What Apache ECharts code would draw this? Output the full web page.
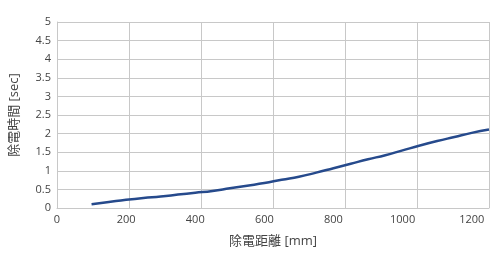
<!DOCTYPE html>
<html><head><meta charset="utf-8">
<script src="https://cdn.jsdelivr.net/npm/echarts@6/dist/echarts.min.js"></script>
<style>html,body{margin:0;padding:0;background:#fff}#c{width:502px;height:257px}</style>
</head><body><div id="c"></div>
<script>
const distances = [100,150,200,250,300,350,400,450,500,550,600,650,700,750,800,850,900,950,1000,1050,1100,1150,1200,1250];
const times = [0.10,0.16,0.22,0.27,0.31,0.36,0.41,0.46,0.53,0.60,0.67,0.76,0.84,0.95,1.07,1.19,1.31,1.42,1.55,1.68,1.80,1.91,2.02,2.11];
const xTitle = '除電距離 [mm]';
const yTitle = '除電時間 [sec]';
const font = '"Open Sans", "Noto Sans CJK JP", sans-serif';
const chart = echarts.init(document.getElementById('c'));
chart.setOption({
  animation:false,
  grid:{left:54.5,right:13,top:22,bottom:49,containLabel:false},
  xAxis:[{
    type:'value',min:0,max:1250,interval:200,
    name:xTitle,nameLocation:'middle',nameGap:27,
    nameTextStyle:{color:'#444',fontSize:13,fontFamily:font},
    axisLine:{show:true,lineStyle:{color:'#c8c8c8'}},axisTick:{show:false},
    axisLabel:{color:'#444',fontSize:11,fontFamily:font,margin:6,showMaxLabel:false,formatter:v=>String(v)},
    splitLine:{show:false}
  },{
    type:'value',min:0,max:1250,interval:1250/6,position:'bottom',
    axisLine:{show:false},axisTick:{show:false},axisLabel:{show:false},
    splitLine:{show:true,lineStyle:{color:'#c8c8c8',width:1}}
  }],
  yAxis:{
    type:'value',min:0,max:5,interval:0.5,
    name:yTitle,nameLocation:'middle',nameGap:36,nameRotate:90,
    nameTextStyle:{color:'#444',fontSize:13,fontFamily:font},
    axisLine:{show:true,lineStyle:{color:'#c8c8c8'}},axisTick:{show:false},
    axisLabel:{color:'#444',fontSize:11,fontFamily:font,margin:6,formatter:v=>String(v)},
    splitLine:{show:true,lineStyle:{color:'#c8c8c8',width:1}}
  },
  series:[{
    type:'line',xAxisIndex:0,data:distances.map((d,i)=>[d,times[i]]),
    showSymbol:false,smooth:true,
    lineStyle:{color:'#264a8c',width:2.5}
  }]
});
</script></body></html>
